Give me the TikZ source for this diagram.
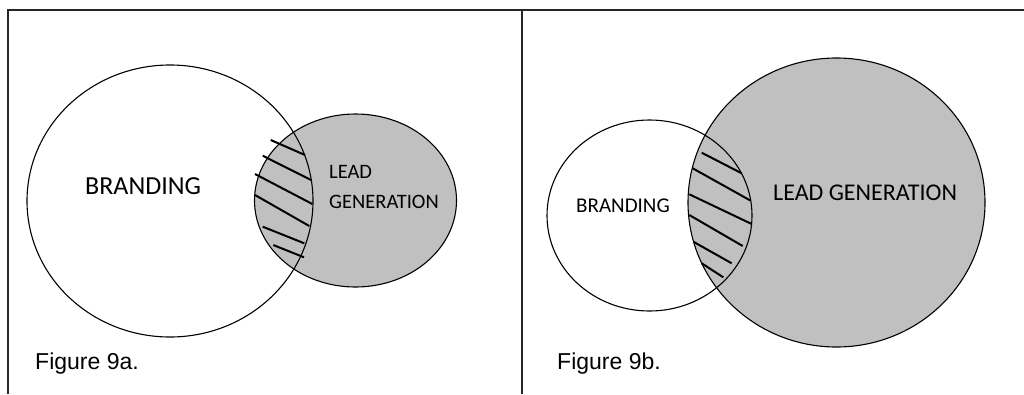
\documentclass[tikz,border=0pt]{standalone}
\usepackage{fontspec}
\setmainfont{Liberation Sans}
\newfontfamily\calib{Carlito}
\definecolor{venngray}{RGB}{192,192,192}
\begin{document}
\begin{tikzpicture}[x=1pt,y=-1pt,
  frameline/.style={line width=1.6pt,black!85},
  outline/.style={line width=1.1pt,black},
  hatchline/.style={line width=2pt,black},
  lbl/.style={inner sep=0pt,anchor=base west,text=black},
  caption/.style={inner sep=0pt,anchor=base west,font=\fontsize{23}{27}\selectfont}]
\useasboundingbox (0,0) rectangle (1024,394);
% frame
\coordinate (tl) at (8,10);
\coordinate (tr) at (1024,10);
\coordinate (bl) at (8,394);
\coordinate (tm) at (522,10);
\coordinate (bm) at (522,394);
\draw[frameline] (bl) -- (tl) -- (tr);
\draw[frameline] (tm) -- (bm);
% ---------- Figure 9a ----------
\fill[venngray] (355.5,200.5) ellipse [x radius=101pt, y radius=86.5pt];
\draw[outline] (170,201) ellipse [x radius=143pt, y radius=136pt];
\draw[outline] (355.5,200.5) ellipse [x radius=101pt, y radius=86.5pt];
\draw[hatchline] (270.7,140) -- (305,155);
\draw[hatchline] (262.7,155.7) -- (311,180);
\draw[hatchline] (255,174) -- (312.3,204);
\draw[hatchline] (255,195) -- (309.3,226);
\draw[hatchline] (262.7,226.7) -- (304.3,243.3);
\draw[hatchline] (273.3,245) -- (304,257.3);
\node[lbl,font=\calib\fontsize{26}{30}\selectfont] (brandA) at (85,194) {BRANDING};
\node[lbl,font=\calib\fontsize{20.5}{24}\selectfont] (leadA) at (329,178.3) {LEAD};
\node[lbl,font=\calib\fontsize{20.5}{24}\selectfont] (genA) at (329,208.3) {GENERATION};
\node[caption] (capA) at (35,369.3) {Figure 9a.};
% ---------- Figure 9b ----------
\fill[venngray] (836.5,202.5) ellipse [x radius=148.5pt, y radius=144.5pt];
\draw[outline] (649.5,215.5) ellipse [x radius=102.5pt, y radius=95.5pt];
\draw[outline] (836.5,202.5) ellipse [x radius=148.5pt, y radius=144.5pt];
\draw[hatchline] (701.7,152.7) -- (741.7,173.3);
\draw[hatchline] (692.7,168.3) -- (750.7,200.7);
\draw[hatchline] (689.3,194.3) -- (751.7,224);
\draw[hatchline] (689.3,215) -- (742.7,246);
\draw[hatchline] (693.3,241.7) -- (731.7,263.3);
\draw[hatchline] (701.7,263.3) -- (723.3,277.3);
\node[lbl,font=\calib\fontsize{21}{25}\selectfont] (brandB) at (576,212) {BRANDING};
\node[lbl,font=\calib\fontsize{24}{28}\selectfont] (leadB) at (773,200) {LEAD GENERATION};
\node[caption] (capB) at (557,369.3) {Figure 9b.};
\end{tikzpicture}
\end{document}
